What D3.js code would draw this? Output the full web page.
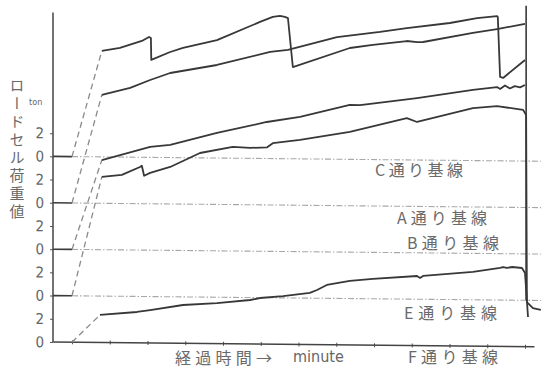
<!DOCTYPE html>
<html>
<head>
<meta charset="utf-8">
<script src="https://cdn.jsdelivr.net/npm/d3@7"></script>
<style>
  body { margin: 0; background: #fff; }
  svg { display: block; }
  .jp { font-family: "Noto Sans CJK JP", sans-serif; fill: #6a6a6a; }
  .num { font-family: "Liberation Sans Narrow", "DejaVu Sans Condensed", sans-serif; fill: #666; }
</style>
</head>
<body>
<svg width="541" height="370"></svg>
<script>
// load-cell readings per line (ton, measured from each line's own base line)
var lineNames = ["C", "A", "B", "E", "F"];
var baseOffset = [16, 12, 8, 4, 0];          // base line of each trace on the ton scale
var rampEnd = [0.79, 0.79, 0.79, 0.79, 0.74]; // end of the dashed loading ramp

var cTime = [0.79, 1.27, 1.85, 2.04, 2.09, 2.10, 2.60, 2.94, 3.84, 4.98, 5.32, 5.51, 5.64, 5.72, 5.85, 7.36, 7.97, 8.87, 9.14, 9.30, 10.62, 11.26, 12.00];
var cLoad = [9.13, 9.41, 10.03, 10.38, 10.29, 8.40, 9.10, 9.46, 10.17, 11.77, 12.21, 12.30, 12.22, 12.13, 7.91, 9.60, 9.88, 10.25, 10.17, 10.18, 11.00, 11.36, 11.82];

var aTime = [0.79, 1.54, 2.07, 2.60, 3.84, 5.25, 5.72, 7.02, 8.16, 8.87, 10.01, 10.73, 11.26, 11.28, 11.34, 11.42, 12.00];
var aLoad = [9.34, 9.97, 10.67, 11.29, 12.02, 13.19, 13.38, 14.53, 15.01, 15.37, 15.84, 16.29, 16.48, 16.40, 11.23, 11.15, 12.72];

var bTime = [0.79, 2.07, 2.60, 3.84, 5.16, 6.04, 7.36, 7.63, 9.14, 10.62, 11.26, 11.34, 11.47, 11.60, 11.73, 11.87, 12.00];
var bLoad = [7.73, 8.90, 9.09, 10.16, 11.15, 11.61, 12.69, 12.68, 13.34, 14.09, 14.36, 14.20, 14.50, 14.25, 14.45, 14.35, 14.56];

var eTime = [0.79, 1.32, 1.80, 1.85, 1.91, 2.07, 2.60, 3.39, 4.26, 4.72, 5.17, 5.32, 6.04, 7.36, 8.87, 9.14, 10.62, 11.26, 11.95, 12.03, 12.05, 12.21, 12.42];
var eLoad = [10.27, 10.46, 11.16, 11.27, 10.41, 10.66, 11.19, 12.42, 12.97, 12.90, 12.97, 13.33, 13.63, 14.36, 15.61, 15.28, 16.53, 16.72, 16.41, 15.97, -0.15, -0.66, -0.82];

var fTime = [0.74, 1.72, 2.07, 2.94, 3.84, 4.72, 4.98, 5.59, 6.30, 6.49, 6.75, 7.36, 7.97, 9.14, 9.22, 9.30, 10.62, 11.34, 11.42, 11.52, 11.66, 11.92, 12.00, 12.08];
var fLoad = [2.37, 2.66, 2.84, 3.30, 3.50, 3.79, 3.97, 4.16, 4.45, 4.71, 5.15, 5.52, 5.71, 6.00, 5.84, 6.01, 6.40, 6.77, 6.85, 6.77, 6.86, 6.78, 6.35, 2.56];

var yTickValues = [0, 2, 4, 6, 8, 10, 12, 14, 16, 18];
var yTickLabels = ["0", "2", "0", "2", "0", "2", "0", "2", "0", "2"];
var xTickValues = d3.range(0, 13);
var endTime = 12.03;

var baseLabels = ["C通り基線", "A通り基線", "B通り基線", "E通り基線", "F通り基線"];

var svg = d3.select("svg");

var x = d3.scaleLinear().domain([0, 12]).range([72, 525]);
var y = d3.scaleLinear().domain([0, 29]).range([342, 5.6]);

// the printed figure is slightly skewed, follow it
var plot = svg.append("g")
    .attr("transform", "translate(53,342) skewY(0.57) translate(-53,-342)");

var times = [cTime, aTime, bTime, eTime, fTime];
var loads = [cLoad, aLoad, bLoad, eLoad, fLoad];

var line = d3.line()
    .x(function (d) { return x(d[0]); })
    .y(function (d) { return y(d[1]); });

// dash-dot base lines
plot.selectAll(".base")
    .data(baseOffset.filter(function (d) { return d > 0; }))
    .enter().append("line")
    .attr("class", "base")
    .attr("x1", x(0)).attr("x2", 541)
    .attr("y1", function (d) { return y(d); })
    .attr("y2", function (d) { return y(d); })
    .attr("stroke", "#a8a8a8")
    .attr("stroke-width", 1.1)
    .attr("stroke-dasharray", "6,2,1.5,2");

// axes
var yAxis = d3.axisLeft(y)
    .tickValues(yTickValues)
    .tickFormat(function (d, i) { return yTickLabels[i]; })
    .tickSizeInner(3).tickSizeOuter(0).tickPadding(6);

var gy = plot.append("g").attr("transform", "translate(53,0)").call(yAxis);
gy.select(".domain").remove();
gy.selectAll("line").attr("stroke", "#555");
gy.selectAll("text").attr("class", "num").attr("font-size", 15).attr("fill", "#666");

plot.append("line")
    .attr("x1", 53).attr("x2", 53)
    .attr("y1", y(28.4)).attr("y2", y(0))
    .attr("stroke", "#444").attr("stroke-width", 1.5);

var xAxis = d3.axisBottom(x).tickValues(xTickValues).tickFormat("").tickSizeInner(2).tickSizeOuter(0);
var gx = plot.append("g").attr("transform", "translate(0," + y(0) + ")").call(xAxis);
gx.select(".domain").remove();
gx.selectAll("line").attr("y1", -2).attr("stroke", "#555");
plot.append("line")
    .attr("x1", x(-0.5)).attr("x2", x(12.25))
    .attr("y1", y(0)).attr("y2", y(0))
    .attr("stroke", "#444").attr("stroke-width", 1.5);

// traces
lineNames.forEach(function (name, i) {
    var off = baseOffset[i];
    var pts = times[i].map(function (t, j) { return [t, loads[i][j] + off]; });

    if (off > 0) {
        plot.append("path")
            .attr("d", line([[-0.5, off], [0, off]]))
            .attr("fill", "none").attr("stroke", "#3a3a3a").attr("stroke-width", 1.6);
    }
    plot.append("path")
        .attr("d", line([[0, off], [rampEnd[i], loads[i][0] + off]]))
        .attr("fill", "none").attr("stroke", "#8a8a8a")
        .attr("stroke-width", 1.3).attr("stroke-dasharray", "6,4");

    plot.append("path")
        .attr("class", "trace trace-" + name)
        .attr("d", line(pts))
        .attr("fill", "none")
        .attr("stroke", "#383838")
        .attr("stroke-width", 1.8)
        .attr("stroke-linejoin", "round");
});

// end marker
plot.append("line")
    .attr("x1", x(endTime)).attr("x2", x(endTime))
    .attr("y1", y(29.4)).attr("y2", y(baseOffset[3]))
    .attr("stroke", "#383838").attr("stroke-width", 1.6);

// labels
var labelPos = [[375, 176, 88], [397, 224, 90], [407, 249, 92], [404, 319, 93], [408, 363, 90]];
baseLabels.forEach(function (t, i) {
    svg.append("text")
        .attr("class", "jp")
        .attr("x", labelPos[i][0]).attr("y", labelPos[i][1])
        .attr("font-size", 16)
        .attr("textLength", labelPos[i][2])
        .attr("lengthAdjust", "spacing")
        .text(t);
});

svg.append("text").attr("class", "jp")
    .attr("x", 175).attr("y", 364).attr("font-size", 16)
    .attr("textLength", 97).attr("lengthAdjust", "spacing")
    .text("経過時間→");
svg.append("text").attr("class", "num")
    .attr("x", 293).attr("y", 362).attr("font-size", 16)
    .text("minute");

svg.append("text").attr("class", "jp")
    .attr("x", 17).attr("y", 78)
    .attr("font-size", 15)
    .style("writing-mode", "vertical-rl")
    .style("letter-spacing", "3px")
    .text("ロードセル荷重値");

svg.append("text").attr("class", "num")
    .attr("x", 29).attr("y", 105).attr("font-size", 9)
    .text("ton");
</script>
</body>
</html>
